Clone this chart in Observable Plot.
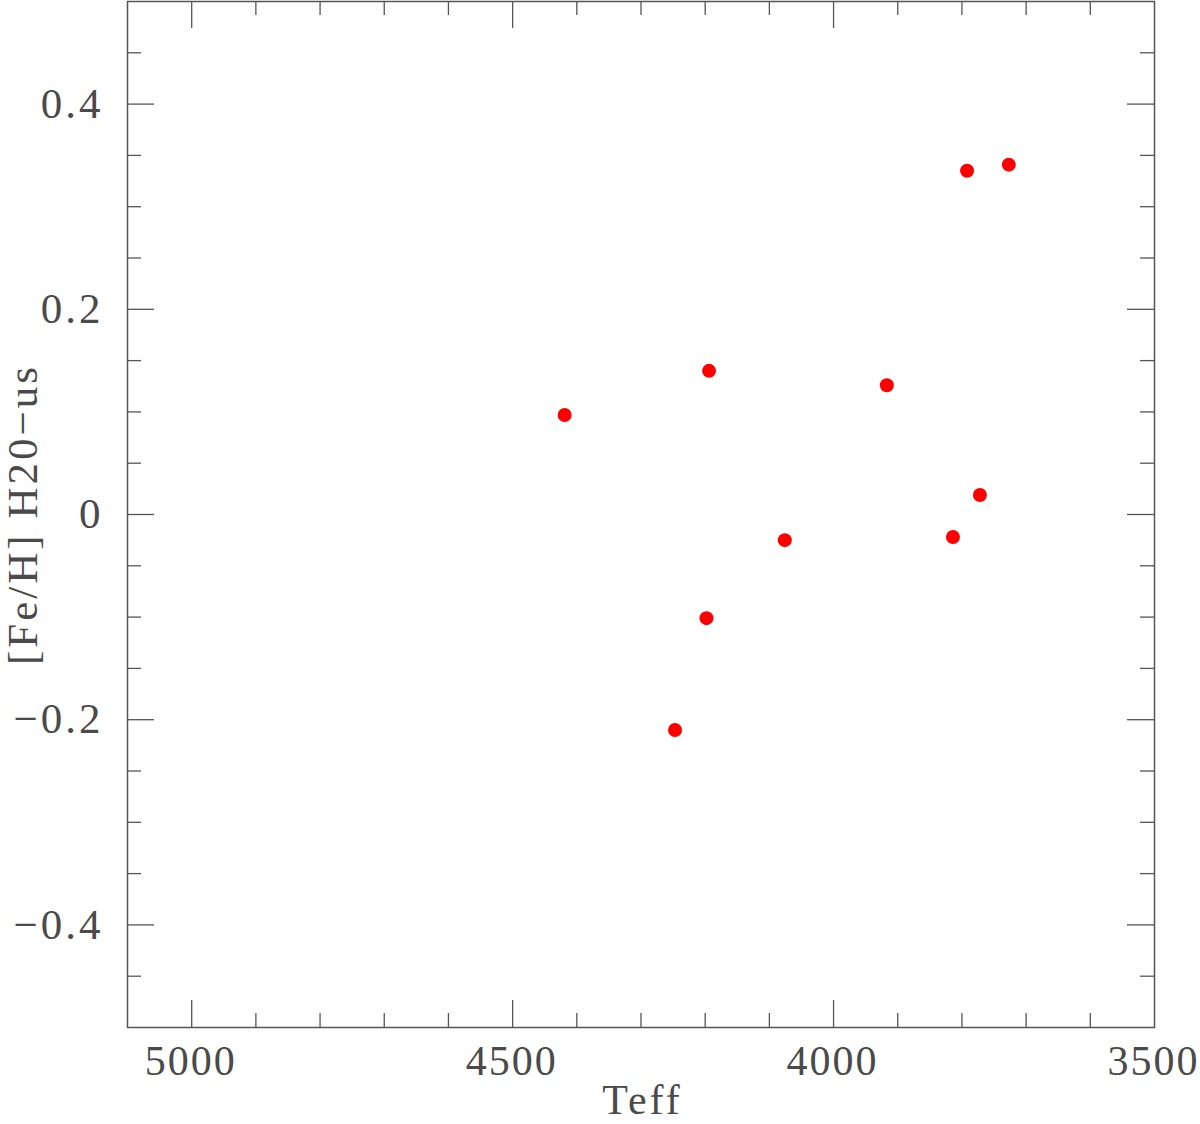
<!DOCTYPE html>
<html>
<head>
<meta charset="utf-8">
<script src="https://cdn.jsdelivr.net/npm/d3@7"></script>
<script src="https://cdn.jsdelivr.net/npm/@observablehq/plot@0.6"></script>
<style>
  html, body { margin: 0; padding: 0; background: #fff; }
  #chart svg { display: block; }
  #chart svg text { letter-spacing: 3px; }
  #chart svg g[aria-label="x-axis tick label"] text { letter-spacing: 2px; }
</style>
</head>
<body>
<div id="chart"></div>
<script>
const teff = [4419, 4194, 3917, 3792, 3727, 3772, 3814, 4076, 4198, 4247];
const feh  = [0.097, 0.140, 0.126, 0.335, 0.341, 0.019, -0.022, -0.025, -0.101, -0.210];
const xMajor = [5000, 4500, 4000, 3500];
const xMinor = [5000, 4900, 4800, 4700, 4600, 4500, 4400, 4300, 4200, 4100, 4000, 3900, 3800, 3700, 3600];
const yMajor = [-0.4, -0.2, 0, 0.2, 0.4];
const yMinor = [-0.45, -0.35, -0.3, -0.25, -0.15, -0.1, -0.05, 0.05, 0.1, 0.15, 0.25, 0.3, 0.35, 0.45];
const xLabel = "Teff";
const yLabel = "[Fe/H] H20\u2212us";

const data = teff.map((t, i) => ({teff: t, feh: feh[i]}));

const W = 1200, H = 1124;
const mL = 127, mR = 46, mT = 1, mB = 97;
const innerH = H - mT - mB, innerW = W - mL - mR;
const font = "'Liberation Serif', 'DejaVu Serif', serif";
const axisColor = "#555";
const txtColor = "#4a4a4a";
const majorLen = 27, minorLen = 14;

const chart = Plot.plot({
  width: W,
  height: H,
  marginLeft: mL,
  marginRight: mR,
  marginTop: mT,
  marginBottom: mB,
  style: {fontFamily: font, background: "#fff"},
  x: {domain: [5100, 3500]},
  y: {domain: [-0.5, 0.5]},
  marks: [
    // bottom & top ticks
    Plot.tickX(xMajor.filter(d => d < 5100 && d > 3500), {x: d => d, stroke: axisColor, strokeWidth: 1.3, insetTop: innerH - majorLen}),
    Plot.tickX(xMajor.filter(d => d < 5100 && d > 3500), {x: d => d, stroke: axisColor, strokeWidth: 1.3, insetBottom: innerH - majorLen}),
    Plot.tickX(xMinor.filter(d => !xMajor.includes(d)), {x: d => d, stroke: axisColor, strokeWidth: 1.3, insetTop: innerH - minorLen}),
    Plot.tickX(xMinor.filter(d => !xMajor.includes(d)), {x: d => d, stroke: axisColor, strokeWidth: 1.3, insetBottom: innerH - minorLen}),
    // left & right ticks
    Plot.tickY(yMajor, {y: d => d, stroke: axisColor, strokeWidth: 1.3, insetRight: innerW - majorLen}),
    Plot.tickY(yMajor, {y: d => d, stroke: axisColor, strokeWidth: 1.3, insetLeft: innerW - majorLen}),
    Plot.tickY(yMinor, {y: d => d, stroke: axisColor, strokeWidth: 1.3, insetRight: innerW - minorLen}),
    Plot.tickY(yMinor, {y: d => d, stroke: axisColor, strokeWidth: 1.3, insetLeft: innerW - minorLen}),
    Plot.frame({stroke: axisColor, strokeWidth: 1.5}),
    Plot.axisX(xMajor, {
      anchor: "bottom", tickSize: 0, tickPadding: 18, fontSize: 42, dx: -1,
      fill: txtColor, label: null, tickFormat: d => String(d)
    }),
    Plot.axisY(yMajor, {
      anchor: "left", tickSize: 0, tickPadding: 24, fontSize: 43,
      fill: txtColor, label: null,
      tickFormat: d => d === 0 ? "0" : d3.format(".1f")(d)
    }),
    Plot.text([xLabel], {frameAnchor: "bottom", dy: 86, dx: 1.5, lineAnchor: "bottom", fontSize: 42, fill: txtColor, text: d => d}),
    Plot.text([yLabel], {frameAnchor: "left", dx: -104, rotate: -90, textAnchor: "middle", fontSize: 43, fill: txtColor, text: d => d}),
    Plot.dot(data, {x: "teff", y: "feh", r: 7, fill: "#ff0000", stroke: "none"})
  ]
});

document.getElementById("chart").appendChild(chart);
</script>
</body>
</html>
